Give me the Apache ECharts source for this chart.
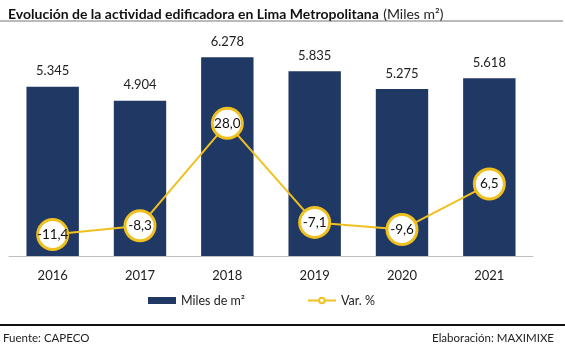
<!DOCTYPE html>
<html>
<head>
<meta charset="utf-8">
<script src="https://cdn.jsdelivr.net/npm/echarts@6/dist/echarts.min.js"></script>
<style>
html,body{margin:0;padding:0;background:#fff;}
#c{width:565px;height:349px;}
</style>
</head>
<body>
<div id="c"></div>
<script>
const years = ['2016','2017','2018','2019','2020','2021'];
const milesM2 = [5345, 4904, 6278, 5835, 5275, 5618];
const varPct = [-11.4, -8.3, 28.0, -7.1, -9.6, 6.5];

const FONT = 'Lato, "Open Sans", sans-serif';
const fmtThousands = v => {
  const s = String(Math.round(v));
  return s.replace(/\B(?=(\d{3})+(?!\d))/g, '.');
};
const fmtDec = v => v.toFixed(1).replace('.', ',');

const chart = echarts.init(document.getElementById('c'), null, {renderer: 'canvas'});
chart.setOption({
  animation: false,
  textStyle: {fontFamily: FONT},
  title: {
    left: 3, top: 0,
    text: '{b|Evolución de la actividad edificadora en Lima Metropolitana} {n|(Miles m²)}',
    textStyle: {
      rich: {
        b: {fontFamily: FONT, fontWeight: 'bold', fontSize: 14, color: '#111'},
        n: {fontFamily: FONT, fontWeight: 'normal', fontSize: 14, color: '#222'}
      }
    }
  },
  graphic: [
    {type: 'line', shape: {x1: 0, y1: 21, x2: 563, y2: 21}, style: {stroke: '#777', lineWidth: 1}},
    {type: 'line', shape: {x1: 0, y1: 325, x2: 565, y2: 325}, style: {stroke: '#111', lineWidth: 2}},
    {type: 'text', left: 3, top: 332, style: {text: 'Fuente: CAPECO', font: '11.5px ' + FONT, fill: '#222'}},
    {type: 'text', right: 11, top: 332, style: {text: 'Elaboración: MAXIMIXE', font: '11.5px ' + FONT, fill: '#222'}}
  ],
  legend: {
    top: 289, left: 143, itemGap: 62,
    itemWidth: 28, itemHeight: 7,
    textStyle: {fontFamily: FONT, fontSize: 12.5, color: '#222'},
    data: [
      {name: 'Miles de m²', icon: 'rect'},
      {name: 'Var. %', itemStyle: {color: '#fff', borderColor: '#F0C020', borderWidth: 2}}
    ]
  },
  grid: {left: 9, right: 32, top: 34.4, bottom: 93},
  xAxis: {
    type: 'category', data: years,
    axisLine: {lineStyle: {color: '#BFBFBF', width: 1}},
    axisTick: {show: false},
    axisLabel: {fontFamily: FONT, fontSize: 13, color: '#222', margin: 13}
  },
  yAxis: [
    {type: 'value', min: 0, max: 7000, show: false, splitLine: {show: false}},
    {type: 'value', min: -19, max: 59.5, show: false, splitLine: {show: false}}
  ],
  series: [
    {
      name: 'Miles de m²', type: 'bar', data: milesM2, yAxisIndex: 0,
      barCategoryGap: '40%',
      itemStyle: {color: '#1F3864'},
      label: {show: true, position: 'top', distance: 9, fontFamily: FONT, fontSize: 13, color: '#222',
        formatter: p => fmtThousands(p.value)}
    },
    {
      name: 'Var. %', type: 'line', data: varPct, yAxisIndex: 1,
      symbol: 'circle', symbolSize: 30,
      lineStyle: {color: '#F0C020', width: 2},
      itemStyle: {color: '#fff', borderColor: '#F0C020', borderWidth: 3},
      label: {show: true, position: 'inside', fontFamily: FONT, fontSize: 13.5, color: '#111',
        formatter: p => fmtDec(p.value)},
      z: 5
    }
  ]
});
</script>
</body>
</html>
